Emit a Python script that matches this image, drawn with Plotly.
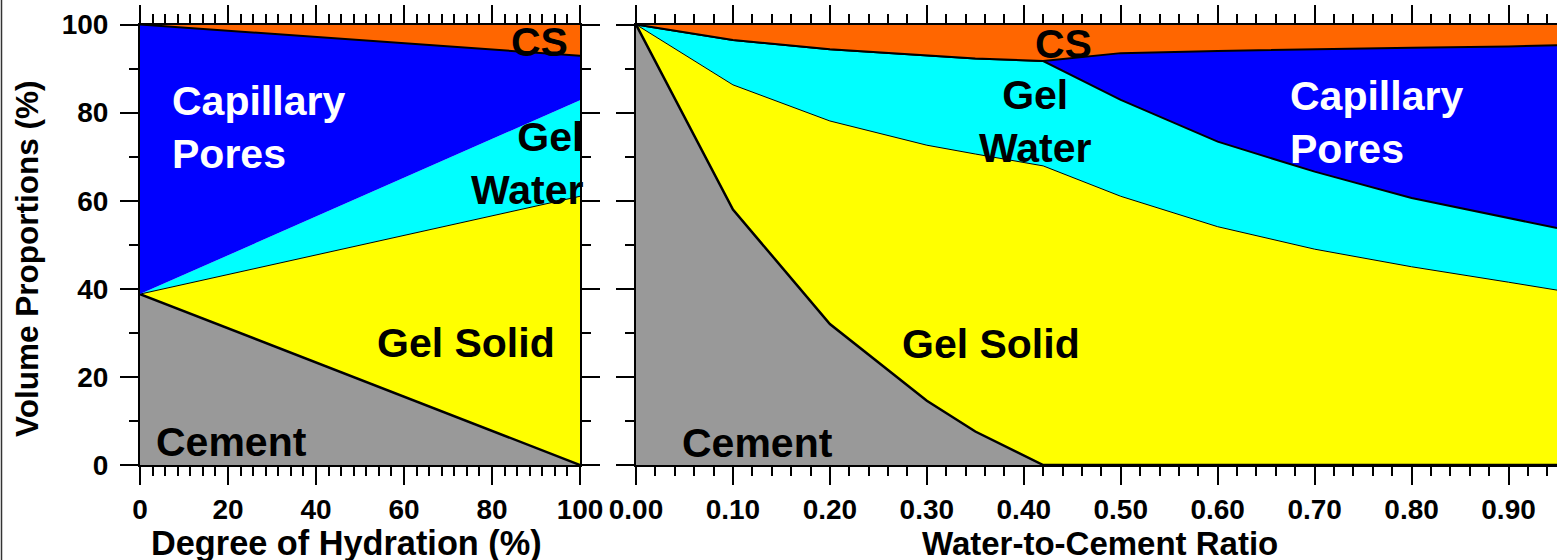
import plotly.graph_objects as go

# ---------------- data (volume proportions, %) ----------------
# Left panel: degree of hydration (%)
hyd = [0, 100]
hyd_cement = [38.8, 0.0]
hyd_gel_solid = [0.0, 61.0]
hyd_gel_water = [0.0, 21.8]
hyd_capillary = [61.2, 10.1]
hyd_cs = [0.0, 7.1]

# Right panel: water-to-cement ratio
wc = [0.0, 0.10, 0.20, 0.30, 0.35, 0.42, 0.50, 0.60, 0.70, 0.80, 0.90, 0.95]
wc_cement = [100.0, 58.0, 32.0, 14.6, 7.6, 0.0, 0.0, 0.0, 0.0, 0.0, 0.0, 0.0]
wc_gel_solid = [0.0, 28.3, 46.1, 58.0, 63.0, 67.9, 61.0, 54.1, 49.0, 45.0, 41.5, 39.7]
wc_gel_water = [0.0, 10.2, 16.3, 20.3, 21.7, 23.8, 21.9, 19.3, 17.6, 15.6, 14.6, 14.1]
wc_capillary = [0.0, 0.0, 0.0, 0.0, 0.0, 0.0, 10.6, 20.6, 27.8, 34.1, 38.9, 41.5]
wc_cs = [0.0, 3.5, 5.6, 7.1, 7.7, 8.3, 6.5, 6.0, 5.6, 5.3, 5.0, 4.7]

hyd_ticks = [0, 20, 40, 60, 80, 100]
y_ticks = [0, 20, 40, 60, 80, 100]

# ---------------- styling ----------------
W, H = 1557, 560
FONT = "Liberation Sans"
C_CEMENT = "#999999"
C_GSOLID = "#FFFF00"
C_GWATER = "#00FFFF"
C_CAP = "#0000FF"
C_CS = "#FF6600"


def px(x):
    return x / W


def py(y):
    return 1 - y / H


fig = go.Figure()


def add_stack(x, y, name, color, lw, group, xa, ya):
    fig.add_trace(go.Scatter(
        x=x, y=y, name=name, mode="lines", stackgroup=group,
        fillcolor=color, line=dict(color="black", width=lw),
        xaxis=xa, yaxis=ya, showlegend=False, hoverinfo="skip"))


for xa, ya, grp, xs, comps in [
    ("x", "y", "L", hyd, [(hyd_cement, "Cement", C_CEMENT, 2.5),
                          (hyd_gel_solid, "Gel Solid", C_GSOLID, 1),
                          (hyd_gel_water, "Gel Water", C_GWATER, 0),
                          (hyd_capillary, "Capillary Pores", C_CAP, 2),
                          (hyd_cs, "CS", C_CS, 0)]),
    ("x2", "y2", "R", wc, [(wc_cement, "Cement", C_CEMENT, 2.5),
                           (wc_gel_solid, "Gel Solid", C_GSOLID, 1),
                           (wc_gel_water, "Gel Water", C_GWATER, 2),
                           (wc_capillary, "Capillary Pores", C_CAP, 2),
                           (wc_cs, "CS", C_CS, 0)]),
]:
    for vals, name, col, lw in comps:
        add_stack(xs, vals, name, col, lw, grp, xa, ya)

ydom = [py(465), py(24.5)]
tickfont = dict(family=FONT, size=28, color="black", weight="bold")
common = dict(showline=True, linecolor="black", linewidth=2, mirror="ticks",
              ticks="outside", ticklen=18, tickwidth=2, tickcolor="black",
              showgrid=False, zeroline=False, tickfont=tickfont, automargin=False)

fig.update_layout(
    width=W, height=H,
    margin=dict(l=0, r=0, t=0, b=0, pad=0, autoexpand=False),
    paper_bgcolor="white", plot_bgcolor="white",
    xaxis=dict(domain=[px(140), px(580)], range=[0, 100], tickvals=hyd_ticks,
               minor=dict(dtick=20 / 7, tick0=0, ticks="outside", ticklen=9,
                          tickwidth=2, tickcolor="black", showgrid=False),
               anchor="y", **common),
    yaxis=dict(domain=ydom, range=[0, 100], tickvals=y_ticks, ticklabelstandoff=6,
               minor=dict(dtick=10, tick0=0, ticks="outside", ticklen=9,
                          tickwidth=2, tickcolor="black", showgrid=False),
               anchor="x", **common),
    xaxis2=dict(domain=[px(636), 1.0], range=[0, 0.95], dtick=0.1, tick0=0,
                tickformat=".2f",
                minor=dict(dtick=0.02, tick0=0, ticks="outside", ticklen=9,
                           tickwidth=2, tickcolor="black", showgrid=False),
                anchor="y2", **common),
    yaxis2=dict(domain=ydom, range=[0, 100], tickvals=y_ticks, showticklabels=False,
                minor=dict(dtick=10, tick0=0, ticks="outside", ticklen=9,
                           tickwidth=2, tickcolor="black", showgrid=False),
                anchor="x2", **common),
)

LBL = 41


def ann(text, x, y, color="black", xanchor="center", align="center", size=LBL, angle=0):
    fig.add_annotation(text=text, x=px(x), y=py(y), xref="paper", yref="paper",
                       xanchor=xanchor, yanchor="middle", align=align,
                       showarrow=False, textangle=angle,
                       font=dict(family=FONT, size=size, color=color, weight="bold"))


# region labels - left panel
ann("CS", 539, 42)
ann("Capillary<br>Pores", 170, 128, color="white", xanchor="left", align="left")
ann("Gel<br>Water", 585, 163, xanchor="right", align="right")
ann("Gel Solid", 466, 343)
ann("Cement", 232, 442)
# region labels - right panel
ann("CS", 1063, 44)
ann("Gel<br>Water", 1035, 121)
ann("Capillary<br>Pores", 1288, 122, color="white", xanchor="left", align="left")
ann("Gel Solid", 991, 344)
ann("Cement", 757, 443)

# axis titles
ann("Degree of Hydration (%)", 346, 543, size=34.3)
ann("Water-to-Cement Ratio", 1100, 543, size=33)
ann("Volume Proportions (%)", 27, 259, size=31.5, angle=-90)

# thin frame line at the far left edge of the image
fig.add_shape(type="line", xref="paper", yref="paper", x0=px(1.5), x1=px(1.5),
              y0=0, y1=1, line=dict(color="#333333", width=1.5))

fig.write_html("out.html")
